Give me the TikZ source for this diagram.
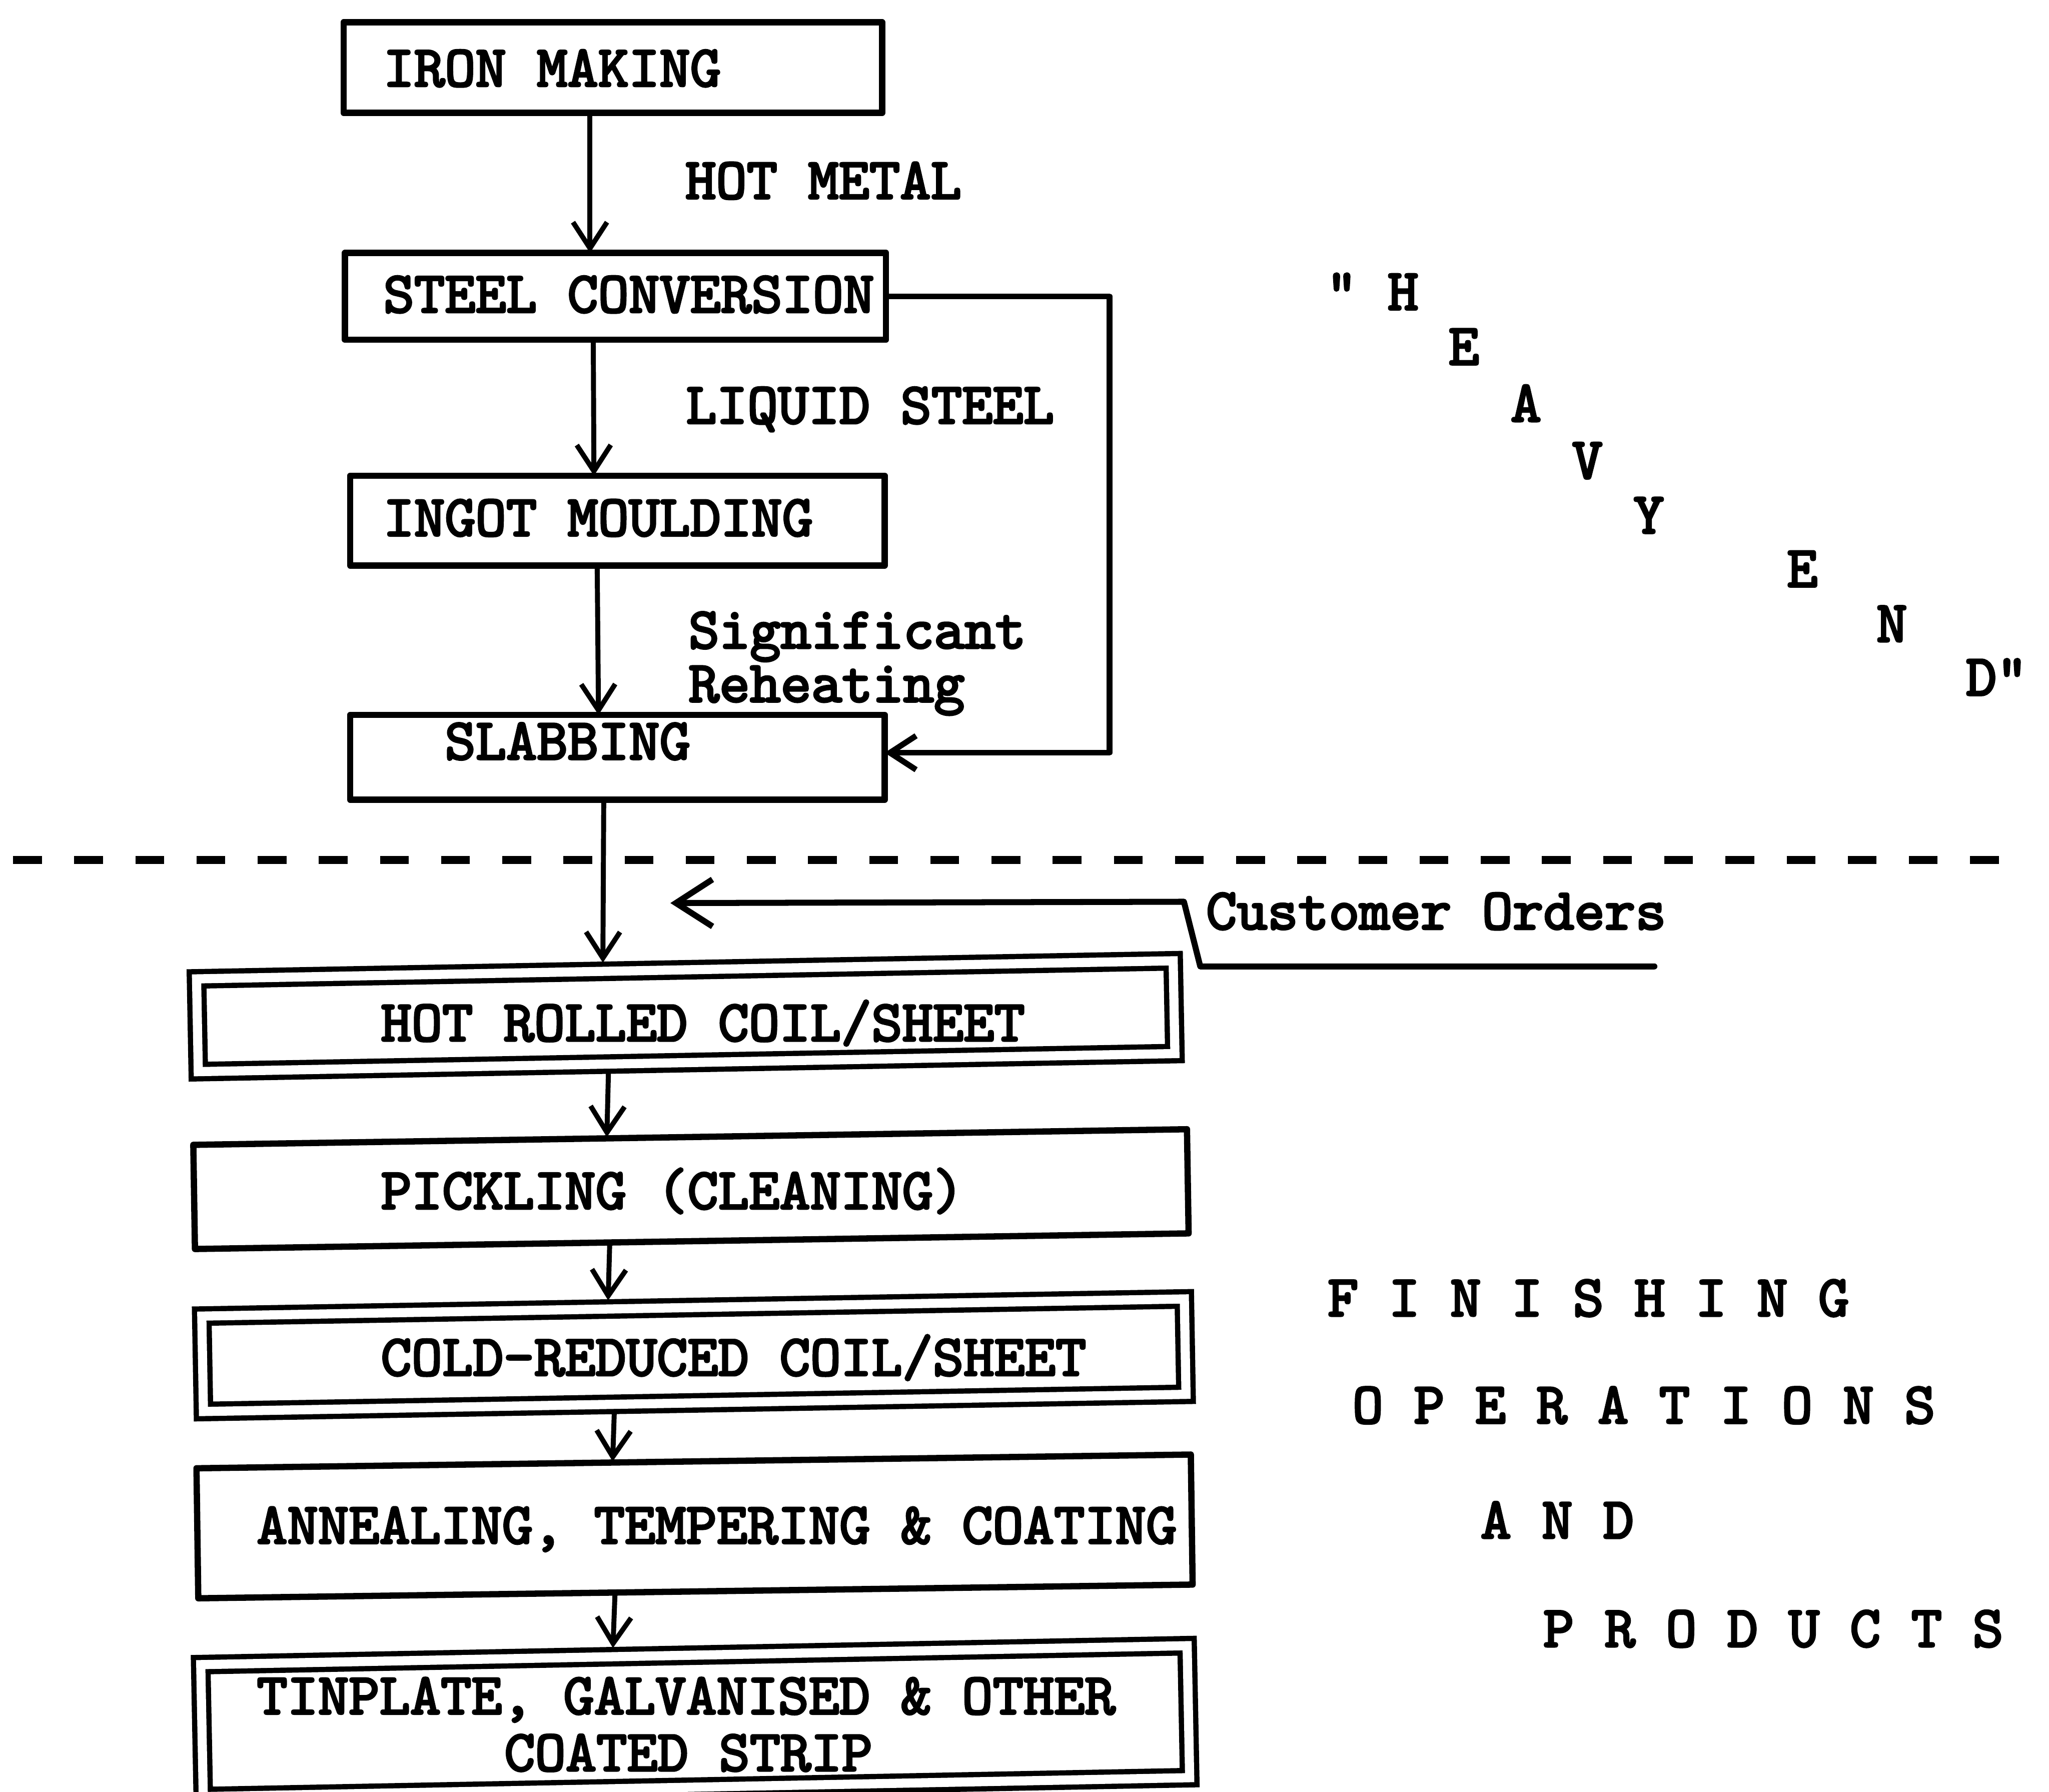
\documentclass[tikz,border=0pt]{standalone}
\usepackage{fontspec}
\newfontfamily\twfont{lmmono10-regular.otf}[FakeBold=3.5]
\usetikzlibrary{arrows.meta}
\begin{document}
\begin{tikzpicture}[x=1pt,y=-1pt,
  box/.style={draw, line width=4.8pt, inner sep=0pt, outer sep=0pt, line join=round},
  dbox/.style={draw, line width=4pt, double, double distance=7pt, inner sep=0pt, outer sep=0pt},
  txt/.style={inner sep=0pt, outer sep=0pt, anchor=base west, font=\twfont\fontsize{44.7}{50}\selectfont},
  arr/.style={line width=3.8pt, -{Straight Barb[length=20pt,width=26pt]}},
  bigarr/.style={line width=4.6pt, line cap=round, line join=round, -{Straight Barb[length=28pt,width=36pt]}},
  sepline/.style={line width=6pt, dash pattern=on 22pt off 24.8pt}
]
\fill[white] (0,0) rectangle (1568,1371);
\useasboundingbox (0,0) rectangle (1568,1371);

% ---------- boxes ----------
\node[box, minimum width=412pt, minimum height=69.4pt] (iron) at (469,51.7) {};
\node[box, minimum width=414pt, minimum height=66.5pt] (steel) at (471,226.75) {};
\node[box, minimum width=409pt, minimum height=68.7pt] (ingot) at (472.5,398.35) {};
\node[box, minimum width=409pt, minimum height=65pt] (slab) at (472.5,579.5) {};
\node[dbox, rotate=1.06, minimum width=747.5pt, minimum height=71pt] (hot) at (524.75,777.6) {};
\node[box, rotate=0.9, minimum width=760.5pt, minimum height=79.7pt] (pick) at (528.75,909.9) {};
\node[dbox, rotate=1, minimum width=752pt, minimum height=73pt] (cold) at (531,1037) {};
\node[box, rotate=0.79, minimum width=761pt, minimum height=99.5pt] (anneal) at (531.5,1168) {};
\node[dbox, rotate=1.1, minimum width=755pt, minimum height=101pt] (tin) at (532,1317) {};

% ---------- texts ----------
\node[txt] (tiron) at (293.5,66) {IRON MAKING};
\node[txt] (thotm) at (524.5,152) {HOT METAL};
\node[txt] (tsteel) at (293.5,239) {STEEL CONVERSION};
\node[txt] (tliq) at (525,324) {LIQUID STEEL};
\node[txt] (tingot) at (293.5,410) {INGOT MOULDING};
\node[txt] (tsig) at (527,496) {Significant};
\node[txt] (treh) at (527,537) {Reheating};
\node[txt] (tslab) at (340.5,581) {SLABBING};
\node[txt] (tcust) at (923,711) {Customer Orders};
\node[txt] (thr) at (291.5,796.5) {HOT ROLLED COIL/SHEET};
\node[txt] (tpick) at (291.5,925) {PICKLING (CLEANING)};
\node[txt] (tcold) at (291.5,1052.5) {COLD-REDUCED COIL/SHEET};
\node[txt] (tann) at (196.5,1181) {ANNEALING, TEMPERING \& COATING};
\node[txt] (ttin1) at (196.5,1311.5) {TINPLATE, GALVANISED \& OTHER};
\node[txt] (ttin2) at (386,1355) {COATED STRIP};

\node[txt] (he1) at (1015,237) {" H};
\node[txt] (he2) at (1108.5,279) {E};
\node[txt] (he3) at (1156,322.5) {A};
\node[txt] (he4) at (1203,366) {V};
\node[txt] (he5) at (1250,408) {Y};
\node[txt] (he6) at (1367.5,449) {E};
\node[txt] (he7) at (1436,491) {N};
\node[txt] (he8) at (1504.5,532) {D"};

\node[txt] (fo1) at (1016,1007) {F I N I S H I N G};
\node[txt] (fo2) at (1035,1089) {O P E R A T I O N S};
\node[txt] (fo3) at (1133,1177) {A N D};
\node[txt] (fo4) at (1181,1260) {P R O D U C T S};

% ---------- separator ----------
\coordinate (dashL) at (10,658);
\coordinate (dashR) at (1530,658);
\draw[sepline] (dashL) -- (dashR);

% ---------- connectors ----------
\draw[arr] ([xshift=-17.5pt]iron.south) -- ([xshift=-19.5pt]steel.north);
\draw[arr] ([xshift=-17pt]steel.south) -- ([xshift=-18pt]ingot.north);
\draw[arr] ([xshift=-15.5pt]ingot.south) -- ([xshift=-14.5pt]slab.north);
\draw[arr] ([xshift=-10.5pt]slab.south) -- ([xshift=-62.75pt,yshift=5.5pt]hot.north);
\draw[arr] ([xshift=-59.75pt,yshift=-5.5pt]hot.south) -- ([xshift=-63.75pt]pick.north);
\draw[arr] ([xshift=-62.75pt]pick.south) -- ([xshift=-65pt,yshift=5.5pt]cold.north);
\draw[arr] ([xshift=-61.5pt,yshift=-5.5pt]cold.south) -- ([xshift=-62pt]anneal.north);
\draw[arr] ([xshift=-61.5pt]anneal.south) -- ([xshift=-62pt,yshift=5.5pt]tin.north);

\coordinate (loopx) at (849,0);
\coordinate (slabin) at ([yshift=3.5pt]slab.east);
\draw[arr, line width=4.4pt, line join=round] (steel.east) -- (steel.east -| loopx) -- (slabin -| loopx) -- (slabin);

\coordinate (ordsrc) at (1266,739.5);
\coordinate (ordb1) at (918.5,739.5);
\coordinate (ordb2) at (906,690);
\coordinate (ordtip) at (513,691);
\draw[bigarr] (ordsrc) -- (ordb1) -- (ordb2) -- (ordtip);
\end{tikzpicture}
\end{document}
